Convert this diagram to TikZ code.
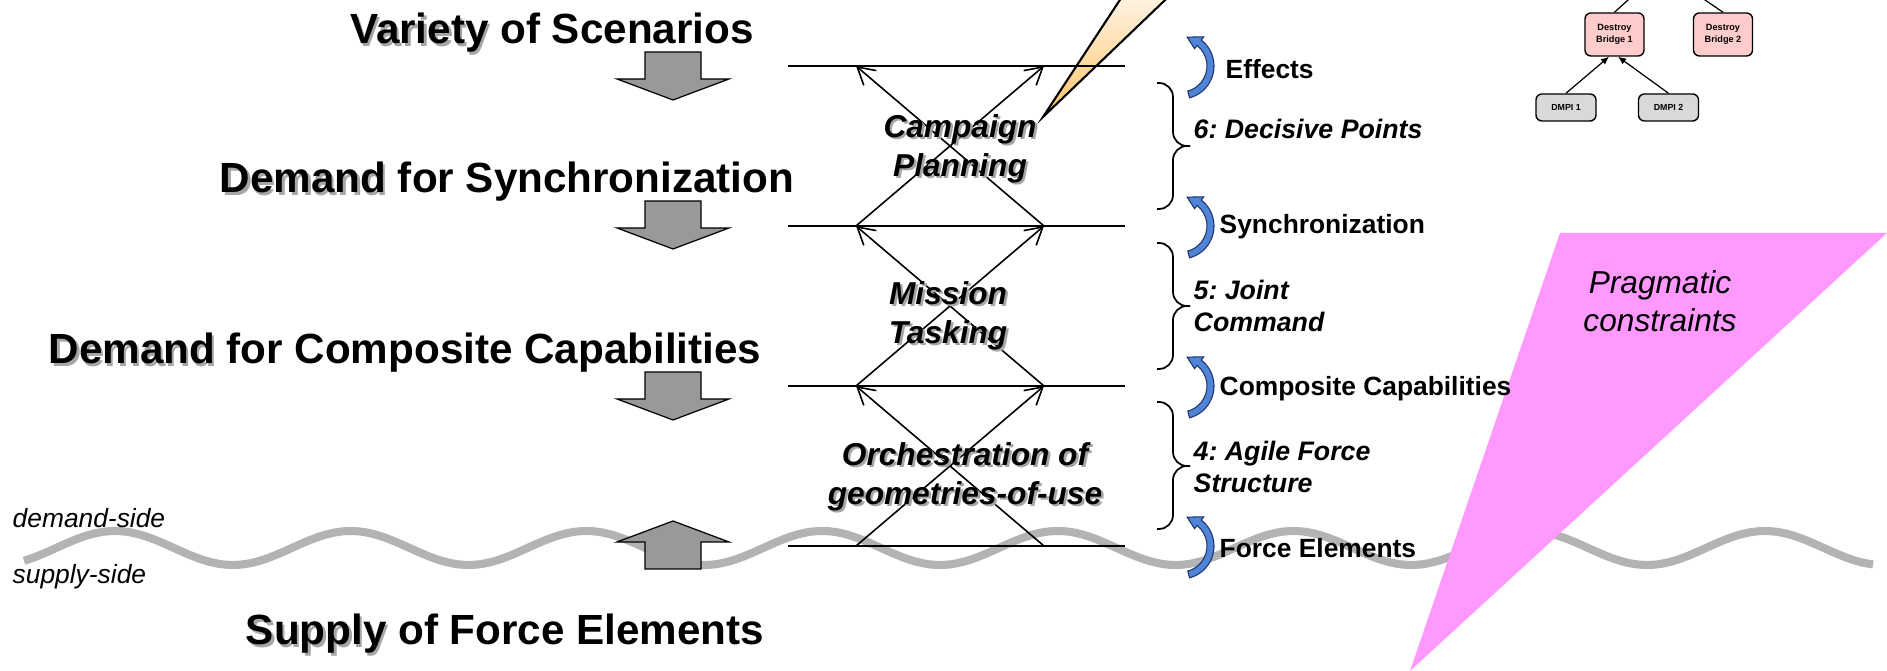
\documentclass[tikz,border=0pt]{standalone}
\usepackage{fontspec}
\setmainfont{Liberation Sans}
\usepackage{xcolor}
\usetikzlibrary{arrows.meta, positioning, calc}
\frenchspacing

\definecolor{arrowgray}{RGB}{153,153,153}
\definecolor{wavegray}{RGB}{179,179,179}
\definecolor{bendblue}{RGB}{79,132,214}
\definecolor{benddark}{RGB}{30,52,110}
\definecolor{pragpink}{RGB}{255,153,255}
\definecolor{bridgepink}{RGB}{255,204,204}
\definecolor{dmpigray}{RGB}{217,217,217}
\definecolor{wedgelight}{RGB}{255,250,245}
\definecolor{wedgeorange}{RGB}{252,196,104}

% text with a soft grey drop shadow
\newcommand{\shtxt}[1]{\leavevmode\rlap{\kern0.7pt\raisebox{-0.7pt}{\color{black!35}#1}}#1}

\tikzset{
  title/.style={font=\fontsize{12}{14}\selectfont\bfseries, anchor=base, inner sep=0pt},
  phase/.style={font=\fontsize{9}{11.1}\selectfont\bfseries\itshape, align=center, inner sep=0pt},
  level/.style={font=\fontsize{7.5}{9}\selectfont\bfseries, anchor=west, inner sep=0pt},
  tier/.style={font=\fontsize{7.6}{9.1}\selectfont\bfseries\itshape, anchor=west, align=left, inner sep=0pt},
  side/.style={font=\fontsize{7.5}{9}\selectfont\itshape, anchor=west, inner sep=0pt},
  prag/.style={font=\fontsize{9}{10.8}\selectfont\itshape, align=center, inner sep=0pt},
  bridge/.style={draw, line width=0.4pt, rounded corners=0.6mm, fill=bridgepink, minimum width=5.9mm,
    minimum height=4.3mm, inner sep=0pt, align=center, font=\fontsize{2.6}{3.4}\selectfont\bfseries},
  dmpi/.style={bridge, fill=dmpigray, minimum width=6mm, minimum height=2.7mm, font=\fontsize{2.5}{3}\selectfont\bfseries},
  levelline/.style={line width=0.6pt},
  crossarrow/.style={line width=0.45pt, -{Straight Barb[length=4.8pt, width=5.5pt]}},
  wave/.style={draw=wavegray, line width=2.3pt},
  tierbrace/.style={line width=0.5pt, rounded corners=1.4mm},
  blockarrow/.pic={
    \filldraw[fill=arrowgray, draw=black, line width=0.35pt]
      (-28,-24) -- (28,-24) -- (28,3) -- (56,3) -- (0,24) -- (-56,3) -- (-28,3) -- cycle;},
  bentarrow/.pic={
    \filldraw[fill=bendblue, draw=benddark, line width=0.3pt]
      (75:33) arc[start angle=75, end angle=-52, radius=33] -- (-52:37) -- (-78:29.5)
      -- (-52:22) -- (-52:26) arc[start angle=-52, end angle=75, radius=26] -- cycle;}
}

\begin{document}
\begin{tikzpicture}[x=0.01cm, y=-0.01cm]
\useasboundingbox (0,0) rectangle (1887,671);
\clip (0,0) rectangle (1887,671);

% demand / supply border
\draw[wave] plot[domain=24:1873, samples=180, smooth] (\x,{548-17*cos(1.52737*(\x-115))});
\node[side] (demside) at (12,518) {demand-side};
\node[side] (supside) at (12,577) {supply-side};

% pragmatic constraints
\fill[pragpink] (1560,233) -- (1887,233) -- (1410,671) -- cycle;
\node[prag] (prag) at (1660,301) {Pragmatic\\constraints};

% callout tail
\coordinate (callout) at (1043,117);
\shade[top color=wedgelight, bottom color=wedgeorange] (1133,-20) -- (callout) -- (1186,-20) -- cycle;
\draw[line width=0.6pt] (1133,-20) -- (callout) -- (1186,-20);

% titles and block arrows
\node[title] (variety) at (552,44) {\shtxt{Variety} of Scenarios};
\node[title] (demsync) at (507,193) {\shtxt{Demand} for Synchronization};
\node[title] (demcomp) at (405,364) {\shtxt{Demand} for Composite Capabilities};
\node[title] (supply) at (505,645) {\shtxt{Supply} of Force Elements};
\foreach \y in {76,225,396}
    \pic at (673,\y) {blockarrow};
\pic[rotate=180] at (673,545) {blockarrow};

% levels and crossing arrows
\foreach \y/\n in {66/1, 226/2, 386/3, 546/4} {
    \coordinate (l\n) at (788,\y);
    \coordinate (r\n) at (1125,\y);
    \coordinate (a\n) at (856,\y);
    \coordinate (b\n) at (1044,\y);
    \draw[levelline] (l\n) -- (r\n);
    \pic at ($(r\n)+(56,0)$) {bentarrow};
}
\foreach \lo/\hi in {2/1, 3/2, 4/3} {
    \draw[crossarrow] (a\lo) -- (b\hi);
    \draw[crossarrow] (b\lo) -- (a\hi);
}
\node[phase] (campaign) at (960,150) {\shtxt{Campaign}\\\shtxt{Planning}};
\node[phase] (mission) at (948,317) {\shtxt{Mission}\\\shtxt{Tasking}};
\node[phase] (orchestra) at (965,478) {\shtxt{Orchestration of}\\\shtxt{geometries-of-use}};

% right hand side
\node[level] (effects) at (1225,69) {Effects};
\node[level] (synch) at (1219,227) {Synchronization};
\node[level] (compcap) at (1219,389) {Composite Capabilities};
\node[level] (forceel) at (1219,548) {Force Elements};
\foreach \t/\m/\b in {83/146/209, 243/306/369, 402/466/529} {
    \draw[tierbrace] (1157,\t) -- (1173,\t) -- (1173,\m) -- (1190,\m);
    \draw[tierbrace] (1190,\m) -- (1173,\m) -- (1173,\b) -- (1157,\b);
}
\node[tier] (tier6) at (1193,129) {6: Decisive Points};
\node[tier] (tier5) at (1193,306) {5: Joint\\Command};
\node[tier] (tier4) at (1193,467) {4: Agile Force\\Structure};

% effects tree
\node[bridge] (br1) at (1614.5,34.5) {Destroy\\Bridge 1};
\node[bridge] (br2) at (1723,34.5) {Destroy\\Bridge 2};
\node[dmpi] (dm1) at (1566,107.5) {DMPI 1};
\node[dmpi] (dm2) at (1668.5,107.5) {DMPI 2};
\coordinate (goal) at (1661,-30);
\draw[line width=0.35pt] (br1.north) -- (goal);
\draw[line width=0.35pt] (br2.north) -- (goal);
\draw[line width=0.35pt, -{Latex[length=0.8mm, width=0.7mm]}] (dm1.north) -- ([xshift=-0.55mm]br1.south);
\draw[line width=0.35pt, -{Latex[length=0.8mm, width=0.7mm]}] (dm2.north) -- ([xshift=0.35mm]br1.south);
\end{tikzpicture}
\end{document}
